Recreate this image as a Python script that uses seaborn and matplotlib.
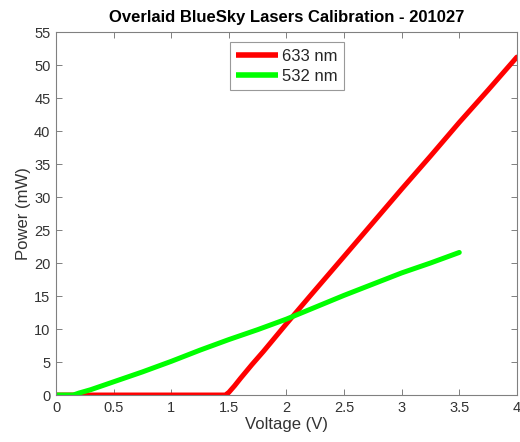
import numpy as np
import pandas as pd
import matplotlib
matplotlib.use("Agg")
import matplotlib.pyplot as plt
import seaborn as sns

# Data
red_voltage = [0.0, 0.5, 1.0, 1.47, 1.5, 1.55, 1.6, 1.7, 1.8, 2.0, 2.2, 2.5, 2.75, 3.0, 3.25, 3.5, 3.75, 4.0]
red_power = [0.0, 0.0, 0.0, 0.0, 0.4, 1.4, 2.5, 4.6, 6.6, 10.8, 14.9, 21.0, 26.1, 31.2, 36.2, 41.3, 46.2, 51.2]
green_voltage = [0.0, 0.15, 0.2, 0.3, 0.4, 0.5, 0.75, 1.0, 1.25, 1.5, 1.75, 2.0, 2.25, 2.5, 2.75, 3.0, 3.25, 3.5]
green_power = [0.0, 0.0, 0.3, 0.8, 1.4, 2.0, 3.5, 5.1, 6.8, 8.4, 9.9, 11.5, 13.3, 15.1, 16.8, 18.5, 20.0, 21.6]
series_names = ["633 nm", "532 nm"]
series_colors = ["#ff0000", "#00ff00"]
x_ticks = [0, 0.5, 1, 1.5, 2, 2.5, 3, 3.5, 4]
x_tick_labels = ["0", "0.5", "1", "1.5", "2", "2.5", "3", "3.5", "4"]
y_ticks = list(range(0, 56, 5))

df = pd.concat([
    pd.DataFrame({"Voltage": red_voltage, "Power": red_power, "Laser": series_names[0]}),
    pd.DataFrame({"Voltage": green_voltage, "Power": green_power, "Laser": series_names[1]}),
])

sns.set_theme(style="white")
plt.rcParams["font.family"] = ["Liberation Sans", "DejaVu Sans"]

fig = plt.figure(figsize=(5.2, 4.42), dpi=100)
ax = fig.add_axes([0.1077, 0.1063, 0.8863, 0.8213])

sns.lineplot(data=df, x="Voltage", y="Power", hue="Laser", palette=series_colors,
             hue_order=series_names, linewidth=3.6, sort=False, estimator=None, ax=ax)

ax.set_xlim(0, 4)
ax.set_ylim(0, 55)
ax.set_xticks(x_ticks)
ax.set_xticklabels(x_tick_labels)
ax.set_yticks(y_ticks)
axis_gray = "#333333"
for s in ax.spines.values():
    s.set_color("#808080")
    s.set_linewidth(0.8)
ax.tick_params(direction="in", length=4, width=0.7, color="#808080",
               labelsize=10.5, labelcolor=axis_gray, top=True, right=True,
               bottom=True, left=True, pad=4)
ax.set_xlabel("Voltage (V)", fontsize=12, color=axis_gray, labelpad=2)
ax.set_ylabel("Power (mW)", fontsize=12, color=axis_gray, labelpad=2)
ax.set_title("Overlaid BlueSky Lasers Calibration - 201027", fontsize=12,
             fontweight="bold", color="black", pad=7)

leg = ax.legend(loc="upper center", bbox_to_anchor=(0.501, 0.972), fontsize=12,
                frameon=True, fancybox=False, edgecolor="#808080",
                handlelength=2.5, handletextpad=0.25, borderpad=0.4,
                labelspacing=0.3, borderaxespad=0)
leg.get_frame().set_linewidth(0.8)
for line in leg.get_lines():
    line.set_linewidth(4)
    line.set_solid_capstyle("butt")

fig.savefig("out.png", dpi=100)
